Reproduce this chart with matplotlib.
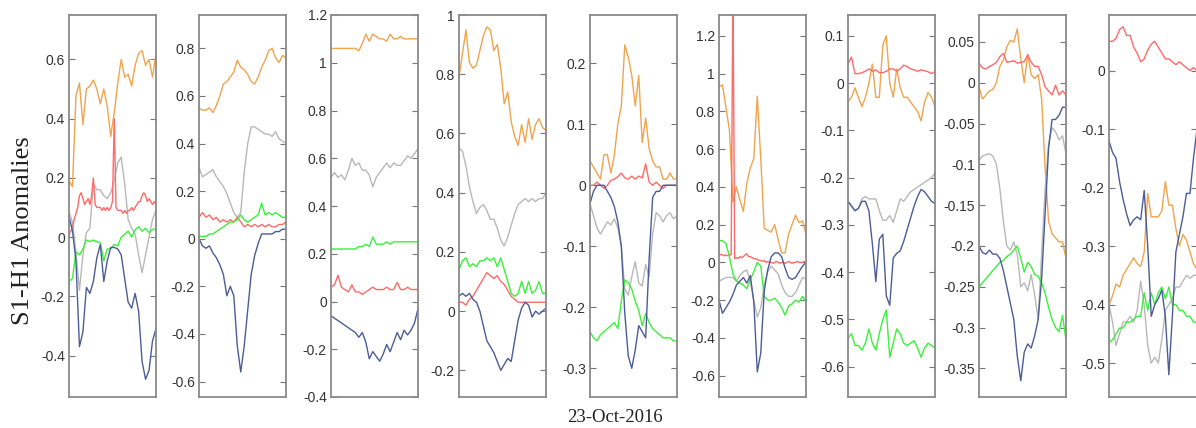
import numpy as np
import matplotlib
matplotlib.use("Agg")
import matplotlib.pyplot as plt
from matplotlib.ticker import MultipleLocator, FuncFormatter

# S1-H1 anomalies around 23-Oct-2016, one small panel per station
p1_orange = [0.19, 0.17, 0.48, 0.52, 0.38, 0.50, 0.51, 0.53, 0.50, 0.45, 0.50, 0.44, 0.34,
             0.42, 0.52, 0.60, 0.54, 0.55, 0.51, 0.58, 0.62, 0.63, 0.58, 0.60, 0.54, 0.62]
p1_gray = [0.085, 0.05, -0.05, -0.18, -0.06, 0.015, 0.03, 0.18, 0.16, 0.16, 0.14, 0.13, 0.15,
           0.19, 0.25, 0.27, 0.18, 0.06, 0.03, 0.01, -0.06, -0.12, -0.06, 0.0, 0.06, 0.09]
p1_red = [0.01, 0.02, 0.03, 0.06, 0.08, 0.10, 0.14, 0.15, 0.13, 0.11, 0.12, 0.13, 0.11,
          0.14, 0.20, 0.11, 0.10, 0.10, 0.10, 0.09, 0.10, 0.09, 0.10, 0.09, 0.10, 0.12,
          0.40, 0.10, 0.09, 0.09, 0.09, 0.08, 0.09, 0.08, 0.09, 0.09, 0.10, 0.09, 0.10,
          0.11, 0.12, 0.12, 0.14, 0.15, 0.14, 0.12, 0.13, 0.12, 0.11, 0.12, 0.11]
p1_green = [-0.15, -0.14, -0.05, -0.06, -0.04, -0.01, -0.015, -0.01, -0.015, -0.02, -0.08, -0.04, -0.04,
            -0.025, -0.03, 0.0, 0.01, 0.02, 0.0, 0.025, 0.035, 0.02, 0.03, 0.015, 0.025, 0.03]
p1_navy = [0.07, 0.02, -0.08, -0.37, -0.32, -0.17, -0.19, -0.15, -0.07, -0.025, -0.15, -0.08, -0.035,
           -0.035, -0.04, -0.06, -0.14, -0.22, -0.24, -0.19, -0.25, -0.42, -0.48, -0.45, -0.35, -0.31]

p2_orange = [0.55, 0.54, 0.54, 0.55, 0.53, 0.56, 0.60, 0.65, 0.66, 0.68, 0.70, 0.75, 0.72,
             0.71, 0.69, 0.66, 0.65, 0.68, 0.72, 0.75, 0.79, 0.80, 0.76, 0.74, 0.77, 0.76]
p2_gray = [0.30, 0.26, 0.27, 0.28, 0.29, 0.26, 0.24, 0.22, 0.19, 0.15, 0.11, 0.09, 0.11,
           0.28, 0.40, 0.47, 0.47, 0.46, 0.45, 0.44, 0.44, 0.43, 0.45, 0.42, 0.41, 0.40]
p2_red = [0.09, 0.11, 0.09, 0.10, 0.08, 0.09, 0.07, 0.08, 0.07, 0.08, 0.07, 0.09, 0.07,
          0.05, 0.06, 0.05, 0.06, 0.05, 0.06, 0.05, 0.06, 0.05, 0.05, 0.06, 0.06, 0.07]
p2_green = [0.01, 0.01, 0.01, 0.02, 0.02, 0.03, 0.04, 0.05, 0.06, 0.07, 0.07, 0.08, 0.10,
            0.08, 0.07, 0.08, 0.09, 0.10, 0.15, 0.10, 0.11, 0.10, 0.11, 0.10, 0.09, 0.09]
p2_navy = [0.0, -0.03, -0.04, -0.03, -0.06, -0.08, -0.11, -0.15, -0.24, -0.20, -0.24, -0.45, -0.56,
           -0.45, -0.30, -0.15, -0.07, -0.02, 0.02, 0.02, 0.02, 0.02, 0.03, 0.03, 0.04, 0.04]

p3_orange = [1.06, 1.06, 1.06, 1.06, 1.06, 1.06, 1.06, 1.06, 1.05, 1.08, 1.12, 1.09, 1.12,
             1.11, 1.10, 1.10, 1.09, 1.12, 1.10, 1.10, 1.11, 1.10, 1.10, 1.10, 1.10, 1.10]
p3_gray = [0.52, 0.54, 0.52, 0.53, 0.51, 0.55, 0.60, 0.57, 0.58, 0.55, 0.55, 0.53, 0.48,
           0.52, 0.54, 0.56, 0.58, 0.56, 0.58, 0.57, 0.57, 0.59, 0.61, 0.60, 0.62, 0.64]
p3_red = [0.06, 0.07, 0.11, 0.06, 0.05, 0.04, 0.07, 0.04, 0.04, 0.03, 0.04, 0.05, 0.06,
          0.05, 0.05, 0.05, 0.06, 0.05, 0.05, 0.08, 0.05, 0.05, 0.06, 0.05, 0.05, 0.05]
p3_green = [0.22, 0.22, 0.22, 0.22, 0.22, 0.22, 0.22, 0.22, 0.23, 0.23, 0.24, 0.23, 0.27,
            0.24, 0.24, 0.24, 0.25, 0.24, 0.25, 0.25, 0.25, 0.25, 0.25, 0.25, 0.25, 0.25]
p3_navy = [-0.06, -0.07, -0.08, -0.09, -0.10, -0.11, -0.12, -0.13, -0.15, -0.13, -0.17, -0.24, -0.21,
           -0.23, -0.25, -0.22, -0.18, -0.21, -0.17, -0.13, -0.16, -0.12, -0.14, -0.12, -0.09, -0.03]

p4_orange = [0.79, 0.87, 0.95, 0.84, 0.82, 0.83, 0.88, 0.93, 0.96, 0.95, 0.88, 0.90, 0.82,
             0.70, 0.74, 0.64, 0.59, 0.56, 0.63, 0.57, 0.65, 0.58, 0.63, 0.65, 0.62, 0.61]
p4_gray = [0.55, 0.54, 0.49, 0.42, 0.37, 0.33, 0.35, 0.36, 0.34, 0.31, 0.31, 0.28, 0.24,
           0.22, 0.25, 0.29, 0.33, 0.36, 0.37, 0.38, 0.37, 0.38, 0.37, 0.38, 0.38, 0.40]
p4_red = [0.03, 0.03, 0.02, 0.04, 0.05, 0.07, 0.09, 0.11, 0.13, 0.12, 0.11, 0.12, 0.10,
          0.09, 0.07, 0.05, 0.04, 0.03, 0.03, 0.03, 0.03, 0.03, 0.03, 0.03, 0.03, 0.03]
p4_green = [0.14, 0.17, 0.18, 0.15, 0.16, 0.15, 0.17, 0.17, 0.18, 0.17, 0.18, 0.15, 0.18,
            0.14, 0.10, 0.06, 0.05, 0.06, 0.10, 0.06, 0.10, 0.06, 0.07, 0.10, 0.06, 0.06]
p4_navy = [0.05, 0.06, 0.05, 0.06, 0.04, 0.03, 0.00, -0.05, -0.10, -0.12, -0.14, -0.17, -0.20,
           -0.18, -0.16, -0.17, -0.10, -0.03, 0.01, 0.03, 0.02, -0.02, 0.00, -0.01, 0.00, 0.01]

p5_orange = [0.04, 0.03, 0.02, 0.01, 0.05, 0.05, 0.02, 0.05, 0.10, 0.13, 0.23, 0.21, 0.18,
             0.13, 0.18, 0.07, 0.11, 0.06, 0.04, 0.03, 0.03, 0.01, 0.01, 0.02, 0.01, 0.01]
p5_gray = [-0.03, -0.05, -0.07, -0.08, -0.07, -0.06, -0.065, -0.055, -0.07, -0.10, -0.17, -0.18, -0.15,
           -0.125, -0.16, -0.165, -0.13, -0.15, -0.08, -0.045, -0.05, -0.06, -0.05, -0.045, -0.055, -0.05]
p5_red = [0.0, 0.0, 0.005, 0.0, -0.005, 0.0, 0.008, 0.01, 0.014, 0.02, 0.012, 0.01, 0.015,
          0.01, 0.015, 0.012, 0.035, 0.005, 0.0, 0.005, 0.0, -0.005, 0.0, 0.0, 0.0, 0.0]
p5_green = [-0.24, -0.25, -0.255, -0.245, -0.24, -0.235, -0.23, -0.225, -0.235, -0.19, -0.155, -0.16, -0.17,
            -0.19, -0.205, -0.23, -0.21, -0.225, -0.235, -0.24, -0.245, -0.25, -0.25, -0.25, -0.255, -0.255]
p5_navy = [-0.03, -0.01, 0.0, 0.0, 0.0, -0.01, -0.02, -0.035, -0.06, -0.10, -0.21, -0.28, -0.30,
           -0.27, -0.23, -0.24, -0.25, -0.12, -0.02, -0.01, -0.01, 0.0, 0.0, 0.0, 0.0, 0.0]

p6_orange = [0.93, 0.94, 0.82, 0.70, 0.32, 0.40, 0.33, 0.27, 0.42, 0.50, 0.55, 0.88, 0.55,
             0.18, 0.17, 0.16, 0.20, 0.12, 0.05, 0.05, 0.15, 0.20, 0.25, 0.21, 0.22, 0.15]
p6_gray = [-0.10, -0.09, -0.08, -0.08, -0.08, -0.10, -0.07, -0.05, -0.04, -0.10, -0.20, -0.29, -0.24,
           -0.12, -0.05, -0.02, -0.04, -0.06, -0.12, -0.16, -0.18, -0.18, -0.16, -0.12, -0.08, -0.09]
p6_red = [0.045, 0.04, 0.04, 0.035, 0.04, 0.035, 0.04, 0.04, 1.5,
          0.02, 0.025, 0.02, 0.03, 0.025, 0.03, 0.04, 0.045, 0.03, 0.03, 0.025, 0.02, 0.02, 0.015,
          0.01, 0.01, 0.005, 0.01, 0.0, 0.005, 0.0, 0.0, -0.005, 0.0, 0.005, 0.0, -0.005, 0.0,
          0.0, -0.005, 0.0, 0.005, 0.0, -0.005, 0.0, 0.0, 0.005, 0.0, 0.0, 0.0, 0.005, 0.0]
p6_green = [0.115, 0.115, 0.10, 0.03, -0.06, -0.10, -0.11, -0.12, -0.14, -0.09, -0.05, 0.0, -0.02,
            -0.18, -0.20, -0.20, -0.19, -0.21, -0.24, -0.28, -0.23, -0.22, -0.20, -0.21, -0.18, -0.21]
p6_navy = [-0.20, -0.27, -0.24, -0.21, -0.17, -0.12, -0.10, -0.08, -0.11, -0.07, -0.21, -0.58, -0.48,
           -0.15, -0.04, 0.03, 0.05, 0.05, 0.03, -0.03, -0.08, -0.09, -0.08, -0.05, -0.02, 0.0]

p7_orange = [-0.04, -0.03, -0.01, -0.03, -0.05, -0.03, 0.0, 0.04, -0.03, -0.03, 0.08, 0.10, 0.0,
             -0.03, 0.03, -0.01, -0.03, -0.03, -0.04, -0.05, -0.06, -0.08, -0.04, -0.02, -0.03, -0.05]
p7_gray = [-0.25, -0.26, -0.27, -0.265, -0.245, -0.24, -0.245, -0.245, -0.245, -0.27, -0.29, -0.29, -0.28,
           -0.295, -0.27, -0.245, -0.25, -0.24, -0.23, -0.225, -0.22, -0.215, -0.21, -0.205, -0.2, -0.19]
p7_red = [0.04, 0.055, 0.02, 0.02, 0.022, 0.025, 0.03, 0.025, 0.028, 0.022, 0.022, 0.025, 0.03,
          0.03, 0.025, 0.03, 0.038, 0.035, 0.03, 0.028, 0.025, 0.028, 0.026, 0.024, 0.02, 0.024]
p7_green = [-0.54, -0.53, -0.555, -0.555, -0.565, -0.55, -0.52, -0.55, -0.565, -0.53, -0.50, -0.48, -0.58,
            -0.55, -0.52, -0.53, -0.55, -0.555, -0.55, -0.545, -0.56, -0.58, -0.56, -0.55, -0.555, -0.56]
p7_navy = [-0.25, -0.26, -0.27, -0.265, -0.25, -0.25, -0.27, -0.34, -0.42, -0.33, -0.32, -0.45, -0.47,
           -0.37, -0.36, -0.355, -0.335, -0.31, -0.285, -0.26, -0.24, -0.225, -0.23, -0.24, -0.25, -0.255]

p8_orange = [-0.005, -0.02, -0.015, -0.01, -0.008, 0.0, 0.02, 0.028, 0.044, 0.052, 0.05, 0.066, 0.03,
             0.0, 0.035, 0.01, 0.005, 0.01, -0.02, -0.105, -0.17, -0.185, -0.19, -0.195, -0.195, -0.215]
p8_gray = [-0.095, -0.09, -0.088, -0.087, -0.09, -0.10, -0.13, -0.17, -0.20, -0.205, -0.195, -0.21, -0.25,
           -0.245, -0.255, -0.235, -0.26, -0.29, -0.21, -0.13, -0.075, -0.055, -0.06, -0.07, -0.065, -0.087]
p8_red = [0.024, 0.018, 0.017, 0.02, 0.022, 0.025, 0.032, 0.036, 0.025, 0.026, 0.027, 0.024, 0.025,
          0.026, 0.034, 0.025, 0.02, 0.02, 0.01, -0.005, -0.01, -0.015, -0.003, -0.015, -0.01, -0.015]
p8_green = [-0.25, -0.245, -0.24, -0.235, -0.23, -0.225, -0.22, -0.218, -0.213, -0.21, -0.205, -0.2, -0.215,
            -0.232, -0.22, -0.225, -0.235, -0.237, -0.245, -0.258, -0.275, -0.29, -0.3, -0.305, -0.285, -0.315]
p8_navy = [-0.20, -0.208, -0.21, -0.205, -0.21, -0.21, -0.215, -0.23, -0.25, -0.27, -0.29, -0.335, -0.365,
           -0.33, -0.32, -0.325, -0.31, -0.29, -0.24, -0.16, -0.08, -0.045, -0.045, -0.04, -0.03, -0.03]

p9_orange = [-0.40, -0.385, -0.365, -0.37, -0.35, -0.34, -0.33, -0.32, -0.33, -0.335, -0.31, -0.21, -0.25,
             -0.25, -0.25, -0.24, -0.19, -0.23, -0.23, -0.27, -0.30, -0.28, -0.29, -0.31, -0.33, -0.34]
p9_gray = [-0.40, -0.43, -0.47, -0.45, -0.43, -0.43, -0.42, -0.43, -0.41, -0.36, -0.40, -0.47, -0.50,
           -0.49, -0.50, -0.46, -0.41, -0.40, -0.39, -0.37, -0.37, -0.36, -0.35, -0.355, -0.35, -0.35]
p9_red = [0.05, 0.05, 0.055, 0.07, 0.075, 0.06, 0.06, 0.04, 0.03, 0.015, 0.02, 0.035, 0.045,
          0.05, 0.04, 0.03, 0.02, 0.02, 0.015, 0.01, 0.015, 0.01, 0.005, 0.0, 0.005, 0.0]
p9_green = [-0.465, -0.46, -0.45, -0.44, -0.44, -0.43, -0.43, -0.425, -0.42, -0.42, -0.38, -0.41, -0.38,
            -0.40, -0.38, -0.37, -0.39, -0.37, -0.40, -0.40, -0.41, -0.41, -0.42, -0.42, -0.43, -0.43]
p9_navy = [-0.12, -0.14, -0.15, -0.19, -0.22, -0.245, -0.265, -0.255, -0.25, -0.255, -0.205, -0.30, -0.42,
           -0.40, -0.39, -0.375, -0.42, -0.52, -0.42, -0.31, -0.28, -0.25, -0.21, -0.21, -0.15, -0.10]

ylims = [(-0.54, 0.75), (-0.665, 0.94), (-0.4, 1.2), (-0.29, 1.0), (-0.347, 0.279),
         (-0.713, 1.31), (-0.664, 0.144), (-0.385, 0.083), (-0.558, 0.095)]
ystep = [0.2, 0.2, 0.2, 0.2, 0.1, 0.2, 0.1, 0.05, 0.1]

panels = [
    (p1_orange, p1_gray, p1_red, p1_green, p1_navy),
    (p2_orange, p2_gray, p2_red, p2_green, p2_navy),
    (p3_orange, p3_gray, p3_red, p3_green, p3_navy),
    (p4_orange, p4_gray, p4_red, p4_green, p4_navy),
    (p5_orange, p5_gray, p5_red, p5_green, p5_navy),
    (p6_orange, p6_gray, p6_red, p6_green, p6_navy),
    (p7_orange, p7_gray, p7_red, p7_green, p7_navy),
    (p8_orange, p8_gray, p8_red, p8_green, p8_navy),
    (p9_orange, p9_gray, p9_red, p9_green, p9_navy),
]
colors = ["#f0a44e", "#b8b8b8", "#ff6a6a", "#3cf03c", "#4c5c98"]


def tick_fmt(v, pos):
    # round away float noise so the zero tick reads "0"
    v = round(v, 6)
    return "%g" % (0.0 if v == 0 else v)


W, H = 1196, 428
lefts = [69, 199, 331, 459, 590, 719, 848, 979, 1109]
top, bottom = 15, 397

fig = plt.figure(figsize=(W / 100, H / 100), dpi=100)
for i, series in enumerate(panels):
    w = 88 if i == len(panels) - 1 else 87
    ax = fig.add_axes([lefts[i] / W, 1 - bottom / H, w / W, (bottom - top) / H])
    for s, c in zip(series, colors):
        ax.plot(np.linspace(0, 1, len(s)), s, color=c, lw=1.0)
    ax.set_xlim(0, 1)
    ax.set_ylim(*ylims[i])
    ax.yaxis.set_major_locator(MultipleLocator(ystep[i]))
    ax.yaxis.set_major_formatter(FuncFormatter(tick_fmt))
    ax.set_xticks([])
    ax.tick_params(axis="y", direction="in", right=True, length=4, width=0.8,
                   color="#777777", labelsize=10, labelcolor="#333333", pad=3)
    for lab in ax.get_yticklabels():
        lab.set_family("Liberation Sans")
    for sp in ax.spines.values():
        sp.set_color("#8a8a8a")
        sp.set_linewidth(1.3)

fig.text(23 / W, 1 - 231 / H, "S1-H1 Anomalies", rotation=90, ha="center", va="center",
         family="Liberation Serif", fontsize=19, color="#222222")
fig.text(615 / W, 1 - 417 / H, "23-Oct-2016", ha="center", va="center",
         family="Liberation Serif", fontsize=13.5, color="#222222")

fig.savefig("out.png", dpi=100)
